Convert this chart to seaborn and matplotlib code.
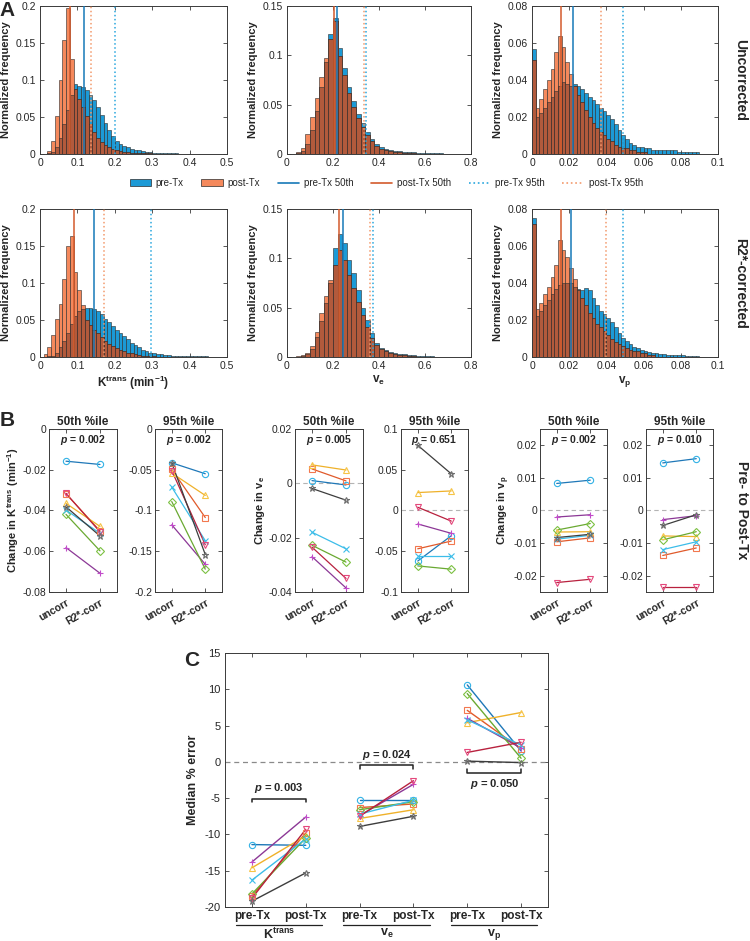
import numpy as np
import pandas as pd
import matplotlib
matplotlib.use("Agg")
import matplotlib.pyplot as plt
import seaborn as sns
from matplotlib.lines import Line2D
from matplotlib.patches import Patch
from matplotlib.ticker import FuncFormatter

sns.set_style("ticks")
plt.rcParams['font.family'] = ['Liberation Sans', 'DejaVu Sans']
plt.rcParams['mathtext.fontset'] = 'custom'
plt.rcParams['mathtext.rm'] = 'Liberation Sans'
plt.rcParams['mathtext.it'] = 'Liberation Sans:italic:bold'
plt.rcParams['mathtext.bf'] = 'Liberation Sans:bold'
plt.rcParams['axes.unicode_minus'] = False

# ---------------- Panel A : histogram bins (normalized frequency) ----------------
kt_edges = np.linspace(0, 0.5, 51)
ve_edges = np.linspace(0, 0.8, 41)
vp_edges = np.linspace(0, 0.1, 51)

kt_unc_pre = [0, 0, 0.001, 0.003, 0.010, 0.022, 0.040, 0.060, 0.080, 0.095,
              0.092, 0.090, 0.087, 0.080, 0.073, 0.064, 0.053, 0.042, 0.032, 0.024,
              0.018, 0.014, 0.011, 0.009, 0.007, 0.006, 0.005, 0.004, 0.003, 0.003,
              0.002, 0.002, 0.002, 0.001, 0.001, 0.001, 0.001, 0, 0, 0,
              0, 0, 0, 0, 0, 0, 0, 0, 0, 0]
kt_unc_post = [0, 0, 0.004, 0.017, 0.052, 0.100, 0.154, 0.197, 0.128, 0.088,
               0.074, 0.064, 0.052, 0.040, 0.030, 0.022, 0.016, 0.012, 0.009, 0.007,
               0.005, 0.004, 0.003, 0.003, 0.002, 0.002, 0.001, 0.001, 0.001, 0.001,
               0, 0, 0, 0, 0, 0, 0, 0, 0, 0,
               0, 0, 0, 0, 0, 0, 0, 0, 0, 0]
kt_cor_pre = [0, 0, 0.001, 0.002, 0.006, 0.013, 0.022, 0.033, 0.045, 0.055,
              0.062, 0.065, 0.066, 0.066, 0.065, 0.062, 0.058, 0.051, 0.047, 0.042,
              0.037, 0.033, 0.028, 0.024, 0.019, 0.016, 0.013, 0.010, 0.008, 0.006,
              0.005, 0.004, 0.004, 0.003, 0.003, 0.002, 0.002, 0.002, 0.001, 0.001,
              0.001, 0.001, 0.001, 0.001, 0.001, 0, 0, 0, 0, 0]
kt_cor_post = [0, 0.004, 0.013, 0.030, 0.052, 0.072, 0.105, 0.150, 0.164, 0.115,
               0.090, 0.070, 0.050, 0.043, 0.037, 0.032, 0.027, 0.022, 0.018, 0.015,
               0.012, 0.010, 0.008, 0.006, 0.005, 0.004, 0.003, 0.002, 0.002, 0.001,
               0.001, 0, 0, 0, 0, 0, 0, 0, 0, 0,
               0, 0, 0, 0, 0, 0, 0, 0, 0, 0]

ve_unc_pre = [0, 0, 0.001, 0.003, 0.010, 0.024, 0.044, 0.068, 0.093, 0.122,
              0.138, 0.107, 0.087, 0.068, 0.054, 0.041, 0.031, 0.022, 0.015, 0.010,
              0.007, 0.005, 0.004, 0.003, 0.003, 0.002, 0.002, 0.002, 0.001, 0.001,
              0.001, 0.001, 0.001, 0.001, 0, 0, 0, 0, 0, 0]
ve_unc_post = [0, 0, 0.002, 0.006, 0.020, 0.037, 0.057, 0.078, 0.097, 0.117,
               0.135, 0.099, 0.080, 0.062, 0.048, 0.036, 0.027, 0.019, 0.013, 0.008,
               0.005, 0.004, 0.003, 0.002, 0.002, 0.001, 0.001, 0.001, 0, 0,
               0, 0, 0, 0, 0, 0, 0, 0, 0, 0]
ve_cor_pre = [0, 0, 0, 0.001, 0.003, 0.008, 0.020, 0.036, 0.055, 0.075,
              0.110, 0.125, 0.116, 0.098, 0.085, 0.068, 0.050, 0.038, 0.024, 0.014,
              0.009, 0.007, 0.005, 0.004, 0.003, 0.003, 0.002, 0.002, 0.001, 0.001,
              0.001, 0.001, 0, 0, 0, 0, 0, 0, 0, 0]
ve_cor_post = [0, 0, 0.001, 0.002, 0.004, 0.011, 0.025, 0.045, 0.062, 0.078,
               0.093, 0.108, 0.098, 0.083, 0.070, 0.056, 0.043, 0.030, 0.019, 0.012,
               0.008, 0.006, 0.004, 0.003, 0.002, 0.002, 0.001, 0.001, 0, 0,
               0, 0, 0, 0, 0, 0, 0, 0, 0, 0]

vp_unc_pre = [0.057, 0.020, 0.022, 0.025, 0.028, 0.031, 0.034, 0.037, 0.039, 0.038,
              0.037, 0.038, 0.037, 0.035, 0.033, 0.031, 0.029, 0.027, 0.025, 0.023,
              0.021, 0.019, 0.016, 0.013, 0.010, 0.008, 0.006, 0.005, 0.004, 0.004,
              0.003, 0.003, 0.002, 0.002, 0.002, 0.002, 0.002, 0.002, 0.002, 0.001,
              0.001, 0.001, 0.001, 0.001, 0.001, 0, 0, 0, 0, 0]
vp_unc_post = [0.051, 0.025, 0.030, 0.035, 0.040, 0.046, 0.055, 0.064, 0.058, 0.050,
               0.043, 0.037, 0.032, 0.028, 0.024, 0.020, 0.017, 0.014, 0.012, 0.010,
               0.008, 0.007, 0.005, 0.004, 0.003, 0.003, 0.002, 0.002, 0.001, 0.001,
               0.001, 0, 0, 0, 0, 0, 0, 0, 0, 0,
               0, 0, 0, 0, 0, 0, 0, 0, 0, 0]
vp_cor_pre = [0.075, 0.022, 0.025, 0.028, 0.031, 0.034, 0.037, 0.039, 0.040, 0.040,
              0.040, 0.038, 0.037, 0.036, 0.0375, 0.036, 0.032, 0.028, 0.025, 0.023,
              0.021, 0.019, 0.016, 0.013, 0.0105, 0.0087, 0.007, 0.0054, 0.0047, 0.0036,
              0.003, 0.0025, 0.0022, 0.002, 0.0018, 0.0015, 0.0012, 0.001, 0.001, 0.001,
              0.001, 0.0008, 0.0006, 0.0005, 0.0004, 0, 0, 0, 0, 0]
vp_cor_post = [0.072, 0.026, 0.029, 0.034, 0.038, 0.043, 0.050, 0.063, 0.058, 0.054,
               0.048, 0.042, 0.036, 0.032, 0.028, 0.024, 0.021, 0.018, 0.016, 0.014,
               0.012, 0.010, 0.008, 0.007, 0.006, 0.005, 0.004, 0.003, 0.003, 0.002,
               0.002, 0.001, 0.001, 0, 0, 0, 0, 0, 0, 0,
               0, 0, 0, 0, 0, 0, 0, 0, 0, 0]

# percentiles: pre 50th, post 50th, pre 95th, post 95th
kt_pct_unc = [0.118, 0.080, 0.200, 0.136]
kt_pct_cor = [0.144, 0.091, 0.297, 0.171]
ve_pct_unc = [0.217, 0.203, 0.345, 0.335]
ve_pct_cor = [0.242, 0.225, 0.374, 0.359]
vp_pct_unc = [0.0218, 0.0155, 0.049, 0.0371]
vp_pct_cor = [0.0212, 0.0157, 0.0487, 0.0398]

# ---------------- Panel B : change pre -> post (8 subjects) ----------------
kt50_uncorr = [-0.0158, -0.0318, -0.0365, -0.0582, -0.0419, -0.0398, -0.0316, -0.0382]
kt50_corr = [-0.0174, -0.0500, -0.0478, -0.0708, -0.0598, -0.0512, -0.0505, -0.0525]
kt95_uncorr = [-0.0415, -0.0495, -0.0540, -0.1176, -0.0890, -0.0713, -0.0510, -0.0415]
kt95_corr = [-0.0549, -0.1086, -0.0815, -0.1660, -0.1720, -0.1370, -0.1420, -0.1540]
ve50_uncorr = [0.0010, 0.0053, 0.0068, -0.0270, -0.0228, -0.0180, -0.0235, -0.0019]
ve50_corr = [-0.0006, 0.0009, 0.0049, -0.0385, -0.0290, -0.0241, -0.0350, -0.0062]
ve95_uncorr = [-0.062, -0.047, 0.022, -0.0165, -0.068, -0.056, 0.004, 0.080]
ve95_corr = [-0.031, -0.0375, 0.024, -0.028, -0.072, -0.056, -0.013, 0.045]
vp50_uncorr = [0.0083, -0.0096, -0.0066, -0.0020, -0.0060, -0.0088, -0.0221, -0.0083]
vp50_corr = [0.0093, -0.0084, -0.0065, -0.0013, -0.0040, -0.0076, -0.0211, -0.0073]
vp95_uncorr = [0.0146, -0.0138, -0.0078, -0.0028, -0.0090, -0.0120, -0.0235, -0.0046]
vp95_corr = [0.0159, -0.0115, -0.0080, -0.0016, -0.0065, -0.0096, -0.0235, -0.0013]
b_pvals = ['0.002', '0.002', '0.005', '0.651', '0.002', '0.010']

# ---------------- Panel C : median % error ----------------
kt_err_pre = [-11.4, -18.5, -14.6, -13.8, -18.2, -16.3, -18.8, -19.2]
kt_err_post = [-11.5, -9.8, -10.2, -7.6, -10.5, -10.6, -9.3, -15.3]
ve_err_pre = [-5.3, -6.3, -7.8, -7.4, -6.6, -7.2, -7.5, -8.9]
ve_err_post = [-5.3, -5.8, -6.6, -3.1, -5.5, -5.3, -2.6, -7.5]
vp_err_pre = [10.6, 7.1, 5.4, 6.0, 9.4, 5.8, 1.3, 0.1]
vp_err_post = [1.5, 1.8, 6.8, 1.9, 0.5, 2.3, 2.7, -0.1]
c_pvals = ['0.003', '0.024', '0.050']

markers = ['o', 's', '^', '+', 'D', 'x', 'v', '*']
line_colors = ['#1f78b8', '#e05a2b', '#efb12a', '#8c3896', '#6aa932', '#3cbde9', '#b8213e', '#3d3d3d']
marker_colors = ['#33b2e6', '#f2784f', '#f6c446', '#c24cca', '#7cc142', '#3cbde9', '#e4487c', '#6e6e6e']

BLUE = '#1c9ad6'
ORANGE = '#f5895c'
OVERLAP = '#b25a3c'
EDGE = '#2b2b2b'
PCT_COLORS = ['#1679b8', '#d35a2c', '#2aa7de', '#f39a6c']
PCT_STYLES = ['-', '-', ':', ':']
SPINE = '#3a3a3a'

W, H = 750, 941
fig = plt.figure(figsize=(W / 100, H / 100), dpi=100)


def rect(l, t, r, b):
    return [l / W, 1 - b / H, (r - l) / W, (b - t) / H]


fmt = FuncFormatter(lambda v, p: f'{v + 0:g}')


def style_axes(ax, size=7.5):
    for s in ax.spines.values():
        s.set_color(SPINE)
        s.set_linewidth(0.7)
    ax.tick_params(direction='in', top=True, right=True, length=3, width=0.6,
                   color=SPINE, labelsize=size, pad=3)
    ax.yaxis.set_major_formatter(fmt)


def draw_hist(ax, edges, pre, post, pct, xticks, yticks):
    df = pd.DataFrame({'center': (edges[:-1] + edges[1:]) / 2,
                       'pre': pre, 'post': post})
    df['both'] = np.minimum(df['pre'], df['post'])
    bins = list(edges)
    for col, color in [('pre', BLUE), ('post', ORANGE), ('both', OVERLAP)]:
        sns.histplot(data=df, x='center', weights=col, bins=bins, color=color, alpha=1,
                     edgecolor=EDGE, linewidth=0.4, ax=ax)
    for v, c, ls in zip(pct, PCT_COLORS, PCT_STYLES):
        ax.axvline(v, color=c, ls=ls, lw=1.1, zorder=5)
    ax.set_xlim(edges[0], edges[-1])
    ax.set_ylim(yticks[0], yticks[-1])
    ax.set_xticks(xticks)
    ax.set_yticks(yticks)
    ax.xaxis.set_major_formatter(fmt)
    ax.set_xlabel('')
    ax.set_ylabel('Normalized frequency', fontsize=8, fontweight='bold', labelpad=3)
    style_axes(ax)


# ---- panel A
hist_specs = [
    (kt_edges, kt_unc_pre, kt_unc_post, kt_pct_unc, kt_cor_pre, kt_cor_post, kt_pct_cor,
     [0, 0.1, 0.2, 0.3, 0.4, 0.5], [0, 0.05, 0.1, 0.15, 0.2],
     r'K$^{\mathbf{trans}}$ (min$^{\mathbf{-1}}$)', (40, 227)),
    (ve_edges, ve_unc_pre, ve_unc_post, ve_pct_unc, ve_cor_pre, ve_cor_post, ve_pct_cor,
     [0, 0.2, 0.4, 0.6, 0.8], [0, 0.05, 0.1, 0.15],
     r'v$_{\mathbf{e}}$', (287, 471)),
    (vp_edges, vp_unc_pre, vp_unc_post, vp_pct_unc, vp_cor_pre, vp_cor_post, vp_pct_cor,
     [0, 0.02, 0.04, 0.06, 0.08, 0.1], [0, 0.02, 0.04, 0.06, 0.08],
     r'v$_{\mathbf{p}}$', (532, 718)),
]
for edges, p1, q1, c1, p2, q2, c2, xt, yt, xl, (l, r) in hist_specs:
    ax1 = fig.add_axes(rect(l, 6, r, 154))
    draw_hist(ax1, edges, p1, q1, c1, xt, yt)
    ax2 = fig.add_axes(rect(l, 209, r, 357))
    draw_hist(ax2, edges, p2, q2, c2, xt, yt)
    ax2.set_xlabel(xl, fontsize=8.5, fontweight='bold', labelpad=2)

handles = [Patch(facecolor=BLUE, edgecolor=EDGE, lw=0.5),
           Patch(facecolor=ORANGE, edgecolor=EDGE, lw=0.5)]
handles += [Line2D([0], [0], color=c, ls=ls, lw=1.2) for c, ls in zip(PCT_COLORS, PCT_STYLES)]
labels = ['pre-Tx', 'post-Tx', 'pre-Tx 50th', 'post-Tx 50th', 'pre-Tx 95th', 'post-Tx 95th']
fig.legend(handles, labels, loc='center', bbox_to_anchor=(0.515, 1 - 183 / H), ncol=6,
           frameon=False, fontsize=7, handlelength=2.2, columnspacing=1.8, handletextpad=0.5)

# ---- panel B
b_specs = [
    (kt50_uncorr, kt50_corr, (49, 117), [-0.08, -0.06, -0.04, -0.02, 0], '50th %ile',
     r'Change in K$^{\mathbf{trans}}$ (min$^{\mathbf{-1}}$)'),
    (kt95_uncorr, kt95_corr, (155, 222), [-0.2, -0.15, -0.1, -0.05, 0], '95th %ile', None),
    (ve50_uncorr, ve50_corr, (295, 363), [-0.04, -0.02, 0, 0.02], '50th %ile',
     r'Change in v$_{\mathbf{e}}$'),
    (ve95_uncorr, ve95_corr, (401, 468), [-0.1, -0.05, 0, 0.05, 0.1], '95th %ile', None),
    (vp50_uncorr, vp50_corr, (540, 607), [-0.02, -0.01, 0, 0.01, 0.02], '50th %ile',
     r'Change in v$_{\mathbf{p}}$'),
    (vp95_uncorr, vp95_corr, (646, 713), [-0.02, -0.01, 0, 0.01, 0.02], '95th %ile', None),
]
for k, (pre, post, (l, r), yt, title, ylab) in enumerate(b_specs):
    ax = fig.add_axes(rect(l, 429, r, 592))
    ax.axhline(0, color='#b4b4b4', ls='--', lw=0.8, dashes=(4, 3), zorder=1)
    for i in range(len(markers)):
        ax.plot([1, 2], [pre[i], post[i]], color=line_colors[i], lw=0.9, zorder=3)
        ax.plot([1, 2], [pre[i], post[i]], ls='none', marker=markers[i], ms=4.5,
                mfc='none', mec=marker_colors[i], mew=0.8, zorder=4)
    ax.set_xlim(0.5, 2.5)
    if k >= 4:
        ax.set_ylim(-0.025, 0.025)
    else:
        ax.set_ylim(yt[0], yt[-1])
    ax.set_yticks(yt)
    ax.set_xticks([1, 2])
    ax.set_xticklabels(['uncorr', 'R2*-corr'], rotation=30, ha='right',
                       rotation_mode='anchor', fontweight='bold')
    style_axes(ax, size=7.5)
    ax.tick_params(axis='y', pad=2)
    ax.tick_params(axis='x', labelsize=7.5, pad=4)
    ax.set_title(title, fontsize=8.5, fontweight='bold', pad=3)
    ax.text(0.5, 0.93, r'$\mathit{p}$ = ' + b_pvals[k], transform=ax.transAxes,
            ha='center', va='center', fontsize=7.5, fontweight='bold')
    if ylab:
        ax.set_ylabel(ylab, fontsize=8, fontweight='bold', labelpad=1)

# ---- panel C
axc = fig.add_axes(rect(225, 653, 548, 907))
axc.axhline(0, color='#8a8a8a', ls='--', lw=0.9, dashes=(4, 3), zorder=1)
c_groups = [(kt_err_pre, kt_err_post), (ve_err_pre, ve_err_post), (vp_err_pre, vp_err_post)]
for g, (pre, post) in enumerate(c_groups):
    x0 = 2 * g + 1
    for i in range(len(markers)):
        axc.plot([x0, x0 + 1], [pre[i], post[i]], color=line_colors[i], lw=1.0, zorder=3)
        axc.plot([x0, x0 + 1], [pre[i], post[i]], ls='none', marker=markers[i], ms=4.5,
                 mfc='none', mec=marker_colors[i], mew=0.8, zorder=4)

# significance brackets: (x start, bar y, tip y, text y)
brackets = [(1, -5.1, -5.6, -3.6), (3, -0.45, -1.05, 1.0), (5, -1.5, -0.95, -3.1)]
for (x0, yb, yt_, ytxt), pv in zip(brackets, c_pvals):
    axc.plot([x0, x0, x0 + 1, x0 + 1], [yt_, yb, yb, yt_], color='#222222', lw=1.1, zorder=5)
    axc.text(x0 + 0.5, ytxt, r'$\mathit{p}$ = ' + pv, ha='center', va='center',
             fontsize=8, fontweight='bold')

axc.set_xlim(0.5, 6.5)
axc.set_ylim(-20, 15)
axc.set_yticks([-20, -15, -10, -5, 0, 5, 10, 15])
axc.set_xticks([1, 2, 3, 4, 5, 6])
axc.set_xticklabels(['pre-Tx', 'post-Tx'] * 3, fontweight='bold')
style_axes(axc, size=8)
axc.tick_params(axis='x', labelsize=8.5, pad=2)
axc.set_ylabel('Median % error', fontsize=9, fontweight='bold', labelpad=4)

group_names = [r'K$^{\mathbf{trans}}$', r'v$_{\mathbf{e}}$', r'v$_{\mathbf{p}}$']
for g, name in enumerate(group_names):
    x0 = 2 * g + 1
    axc.plot([x0 - 0.3, x0 + 1.3], [-0.072, -0.072], color='#222222', lw=0.9,
             transform=axc.get_xaxis_transform(), clip_on=False)
    axc.text(x0 + 0.5, -0.078, name, transform=axc.get_xaxis_transform(),
             ha='center', va='top', fontsize=9, fontweight='bold')

# ---- figure labels
fig.text(7 / W, 1 - 11 / H, 'A', fontsize=15, fontweight='bold', ha='center', va='center')
fig.text(7 / W, 1 - 421 / H, 'B', fontsize=15, fontweight='bold', ha='center', va='center')
fig.text(192 / W, 1 - 661 / H, 'C', fontsize=15, fontweight='bold', ha='center', va='center')
fig.text(740 / W, 1 - 80 / H, 'Uncorrected', rotation=-90, fontsize=10, fontweight='bold',
         ha='center', va='center')
fig.text(740 / W, 1 - 283 / H, 'R2*-corrected', rotation=-90, fontsize=10, fontweight='bold',
         ha='center', va='center')
fig.text(742 / W, 1 - 510 / H, 'Pre- to Post-Tx', rotation=-90, fontsize=10, fontweight='bold',
         ha='center', va='center')

fig.savefig('out.png', dpi=100)
